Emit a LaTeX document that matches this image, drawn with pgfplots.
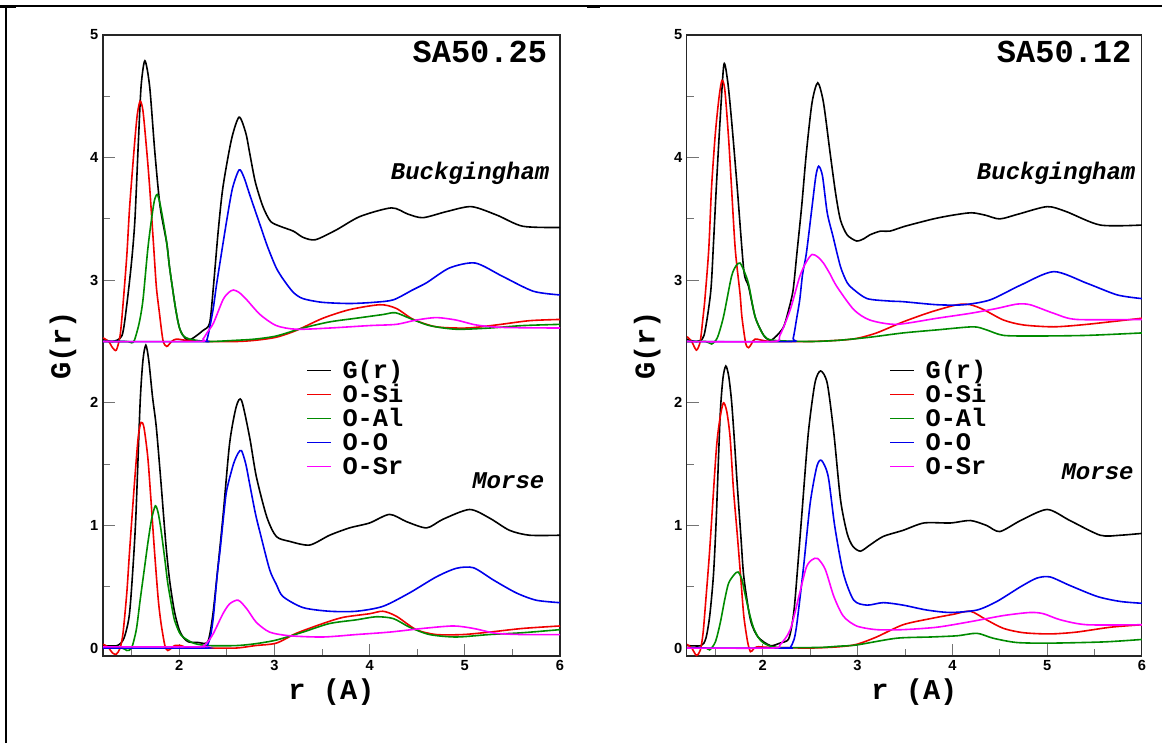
\documentclass[border=0pt]{standalone}
\usepackage{fontspec}
\setmainfont{Liberation Sans}
\newfontfamily\cour{Liberation Mono}
\usepackage{pgfplots}
\pgfplotsset{compat=1.18}
\definecolor{gk}{RGB}{0,0,0}
\definecolor{gr}{RGB}{240,0,0}
\definecolor{gg}{RGB}{0,139,0}
\definecolor{gb}{RGB}{0,0,235}
\definecolor{gm}{RGB}{255,0,255}
\pgfplotsset{rdf/.style={
 scale only axis, height=465.75pt, anchor=south west,
 xmin=1.2, xmax=6, ymin=-0.065, ymax=5,
 xtick={2,3,4,5,6}, ytick={0,1,2,3,4,5},
 minor xtick={1.5,2.5,3.5,4.5,5.5}, minor ytick={0.5,1.5,2.5,3.5,4.5},
 tick align=inside, xtick pos=bottom, ytick pos=left,
 major tick length=9pt, minor tick length=5pt,
 tick style={black!55, line width=0.7pt},
 axis line style={black!85, line width=0.8pt},
 /pgf/number format/assume math mode=true,
 ticklabel style={font=\bfseries\fontsize{11}{13}\selectfont},
 xlabel={r (A)}, ylabel={G(r)},
 label style={font=\cour\bfseries\fontsize{21.5}{24}\selectfont},
 xlabel style={at={(axis description cs:0.5,-0.058)}, anchor=center},
 ylabel style={at={(axis description cs:-0.0875,0.5)}, anchor=center},
 every axis plot/.append style={line width=1.2pt, smooth, tension=0.45, no markers},
 legend cell align=left,
 legend image code/.code={\draw[#1, line width=0.9pt] (0pt,0pt) -- (18pt,0pt);},
 legend style={draw=none, fill=none, inner sep=0pt, anchor=north west,
   font=\cour\bfseries\fontsize{19}{19}\selectfont, row sep=0pt, column sep=6pt,
   cells={anchor=west, text height=12.5pt, text depth=5.5pt}},
}}
\begin{document}
\begin{tikzpicture}
\path[use as bounding box] (0,0) rectangle (871.5pt,557.25pt);
\draw[line width=0.8pt] (4.5pt,0pt) -- (4.5pt,552.75pt) -- (871.5pt,552.75pt);
\draw[line width=2pt] (0pt,552.5pt) -- (12pt,552.5pt);
\draw[line width=2pt] (440pt,552.5pt) -- (450pt,552.5pt);
% ================= LEFT PANEL SA50.25 =================
\begin{axis}[rdf, at={(77.25pt,65.25pt)}, width=342.75pt,
  legend style={at={(rel axis cs:0.445,0.479)}}]
% Morse
\addplot[color=gk] coordinates {(1.2,0.02)(1.35,0.02)(1.42,0.08)(1.475,0.26)(1.51,0.6)(1.545,1.07)(1.59,2.0)(1.62,2.35)(1.65,2.47)(1.68,2.35)(1.72,2.05)(1.76,1.8)(1.81,1.34)(1.86,0.85)(1.9,0.55)(1.95,0.3)(2.0,0.15)(2.05,0.08)(2.1,0.05)(2.2,0.045)(2.3,0.05)(2.35,0.25)(2.39,0.53)(2.46,1.07)(2.53,1.67)(2.6,1.97)(2.655,2.02)(2.74,1.72)(2.81,1.40)(2.92,1.07)(3.02,0.91)(3.16,0.87)(3.37,0.84)(3.58,0.92)(3.79,0.98)(4.0,1.02)(4.21,1.09)(4.39,1.03)(4.6,0.98)(4.77,1.05)(5.05,1.13)(5.26,1.06)(5.47,0.96)(5.68,0.92)(6.0,0.92)};
\addlegendentry{G(r)}
\addplot[color=gr] coordinates {(1.2,0.03)(1.25,0.01)(1.3,-0.04)(1.34,-0.05)(1.38,0.0)(1.41,0.12)(1.45,0.45)(1.48,0.8)(1.53,1.34)(1.57,1.72)(1.6,1.84)(1.63,1.8)(1.67,1.56)(1.7,1.25)(1.74,0.8)(1.78,0.4)(1.81,0.2)(1.85,0.02)(1.88,-0.02)(1.92,0.0)(1.95,0.02)(2.02,0.02)(2.1,0.0)(2.3,0.0)(2.6,0.0)(2.8,0.02)(3.02,0.04)(3.23,0.12)(3.51,0.2)(3.72,0.25)(4.0,0.28)(4.14,0.30)(4.28,0.26)(4.49,0.15)(4.7,0.11)(4.98,0.11)(5.26,0.13)(5.61,0.16)(6.0,0.18)};
\addlegendentry{O-Si}
\addplot[color=gg] coordinates {(1.2,0.0)(1.4,0.0)(1.45,-0.02)(1.5,0.0)(1.55,0.15)(1.59,0.39)(1.63,0.62)(1.67,0.85)(1.71,1.05)(1.75,1.16)(1.78,1.1)(1.81,0.96)(1.85,0.72)(1.88,0.53)(1.92,0.35)(1.95,0.23)(2.0,0.13)(2.04,0.09)(2.15,0.04)(2.3,0.02)(2.6,0.02)(2.8,0.035)(3.02,0.065)(3.3,0.13)(3.58,0.2)(3.86,0.23)(4.07,0.255)(4.25,0.24)(4.42,0.17)(4.63,0.11)(4.91,0.09)(5.26,0.11)(5.61,0.125)(6.0,0.15)};
\addlegendentry{O-Al}
\addplot[color=gb] coordinates {(1.2,0.0)(2.25,0.0)(2.29,0.01)(2.33,0.1)(2.36,0.26)(2.4,0.6)(2.43,0.8)(2.47,1.1)(2.5,1.29)(2.57,1.5)(2.62,1.59)(2.655,1.61)(2.7,1.5)(2.74,1.34)(2.8,1.1)(2.85,0.94)(2.95,0.64)(3.02,0.52)(3.09,0.42)(3.3,0.33)(3.58,0.30)(3.86,0.30)(4.14,0.34)(4.42,0.45)(4.7,0.58)(4.91,0.65)(5.09,0.655)(5.3,0.555)(5.54,0.45)(5.75,0.39)(6.0,0.37)};
\addlegendentry{O-O}
\addplot[color=gm] coordinates {(1.2,0.01)(2.2,0.01)(2.25,0.015)(2.3,0.05)(2.36,0.12)(2.46,0.28)(2.53,0.36)(2.62,0.39)(2.71,0.32)(2.81,0.21)(2.95,0.13)(3.16,0.10)(3.51,0.09)(3.86,0.11)(4.21,0.13)(4.56,0.16)(4.88,0.18)(5.09,0.16)(5.33,0.12)(5.61,0.11)(6.0,0.11)};
\addlegendentry{O-Sr}
% Buckingham
\addplot[color=gk, forget plot] coordinates {(1.2,2.52)(1.3,2.5)(1.4,2.55)(1.45,2.8)(1.5,3.15)(1.535,3.49)(1.57,4.1)(1.6,4.58)(1.64,4.79)(1.69,4.58)(1.745,4.04)(1.8,3.6)(1.87,3.3)(1.9,3.1)(1.96,2.78)(2.0,2.62)(2.04,2.55)(2.09,2.51)(2.15,2.53)(2.25,2.59)(2.32,2.65)(2.36,2.95)(2.41,3.4)(2.46,3.76)(2.55,4.15)(2.63,4.33)(2.7,4.2)(2.74,4.04)(2.8,3.8)(2.88,3.6)(2.96,3.48)(3.06,3.44)(3.2,3.40)(3.3,3.35)(3.43,3.33)(3.65,3.41)(3.9,3.52)(4.23,3.59)(4.4,3.54)(4.56,3.51)(4.81,3.56)(5.07,3.60)(5.34,3.53)(5.61,3.44)(6.0,3.43)};
\addplot[color=gr, forget plot] coordinates {(1.2,2.53)(1.26,2.5)(1.3,2.45)(1.34,2.43)(1.38,2.55)(1.41,2.8)(1.45,3.2)(1.48,3.6)(1.53,4.1)(1.56,4.35)(1.59,4.46)(1.62,4.38)(1.66,4.05)(1.69,3.76)(1.73,3.3)(1.76,2.95)(1.79,2.75)(1.83,2.51)(1.87,2.46)(1.92,2.5)(1.97,2.52)(2.07,2.51)(2.3,2.5)(2.6,2.5)(2.8,2.51)(3.02,2.535)(3.23,2.59)(3.51,2.69)(3.79,2.76)(4.11,2.80)(4.28,2.77)(4.46,2.68)(4.7,2.62)(5.02,2.61)(5.33,2.635)(5.68,2.67)(6.0,2.68)};
\addplot[color=gg, forget plot] coordinates {(1.2,2.5)(1.45,2.5)(1.5,2.49)(1.53,2.51)(1.58,2.65)(1.62,2.84)(1.67,3.25)(1.71,3.5)(1.74,3.65)(1.77,3.70)(1.8,3.62)(1.84,3.45)(1.87,3.3)(1.9,3.1)(1.96,2.78)(2.0,2.62)(2.04,2.55)(2.11,2.52)(2.3,2.5)(2.6,2.51)(2.8,2.52)(3.02,2.545)(3.3,2.61)(3.58,2.66)(3.86,2.69)(4.14,2.72)(4.27,2.735)(4.42,2.69)(4.63,2.63)(4.91,2.60)(5.26,2.61)(5.61,2.63)(6.0,2.64)};
\addplot[color=gb, forget plot] coordinates {(1.2,2.5)(2.25,2.5)(2.29,2.51)(2.33,2.65)(2.36,2.78)(2.39,2.95)(2.43,3.15)(2.5,3.49)(2.56,3.75)(2.63,3.90)(2.68,3.84)(2.74,3.70)(2.85,3.45)(2.93,3.27)(3.02,3.10)(3.1,3.0)(3.2,2.9)(3.3,2.85)(3.5,2.82)(3.79,2.81)(4.05,2.82)(4.25,2.84)(4.45,2.92)(4.6,2.98)(4.84,3.10)(5.11,3.14)(5.4,3.03)(5.72,2.91)(6.0,2.88)};
\addplot[color=gm, forget plot] coordinates {(1.2,2.5)(2.2,2.5)(2.25,2.52)(2.3,2.58)(2.36,2.65)(2.46,2.84)(2.52,2.9)(2.57,2.92)(2.63,2.90)(2.71,2.84)(2.85,2.72)(3.02,2.63)(3.23,2.60)(3.58,2.61)(4.0,2.63)(4.28,2.64)(4.49,2.675)(4.7,2.695)(4.91,2.675)(5.12,2.635)(5.4,2.615)(6.0,2.61)};
\node[anchor=east, font=\cour\bfseries\fontsize{24}{28}\selectfont] at (rel axis cs:0.982,0.9726) {SA50.25};
\node[anchor=east, font=\cour\bfseries\itshape\fontsize{18}{20}\selectfont] at (rel axis cs:0.987,0.778) {Buckgingham};
\node[anchor=east, font=\cour\bfseries\itshape\fontsize{18}{20}\selectfont] at (rel axis cs:0.976,0.283) {Morse};
\end{axis}
% ================= RIGHT PANEL SA50.12 =================
\begin{axis}[rdf, at={(515.2pt,65.25pt)}, width=341.25pt,
  legend style={at={(rel axis cs:0.445,0.479)}}]
\addplot[color=gk] coordinates {(1.2,0.02)(1.35,0.02)(1.4,0.08)(1.44,0.26)(1.48,0.6)(1.51,1.07)(1.55,1.89)(1.58,2.2)(1.61,2.30)(1.64,2.22)(1.67,2.02)(1.7,1.7)(1.73,1.34)(1.77,0.9)(1.8,0.58)(1.87,0.23)(1.95,0.09)(2.08,0.02)(2.18,0.04)(2.27,0.07)(2.31,0.2)(2.34,0.39)(2.41,1.07)(2.48,1.75)(2.55,2.16)(2.61,2.26)(2.68,2.16)(2.75,1.75)(2.82,1.21)(2.89,0.935)(2.95,0.83)(3.03,0.79)(3.13,0.84)(3.27,0.91)(3.48,0.96)(3.7,1.02)(3.98,1.02)(4.19,1.04)(4.36,1.00)(4.5,0.95)(4.72,1.04)(5.0,1.13)(5.24,1.04)(5.56,0.92)(5.77,0.92)(6.0,0.935)};
\addlegendentry{G(r)}
\addplot[color=gr] coordinates {(1.2,0.03)(1.25,0.0)(1.3,-0.06)(1.34,-0.02)(1.37,0.12)(1.4,0.4)(1.44,0.8)(1.51,1.62)(1.55,1.88)(1.585,2.00)(1.62,1.93)(1.655,1.72)(1.69,1.3)(1.73,0.935)(1.77,0.55)(1.8,0.26)(1.84,0.05)(1.87,-0.03)(1.9,-0.01)(1.94,0.01)(2.08,0.005)(2.5,0.0)(2.8,0.01)(2.99,0.03)(3.2,0.09)(3.48,0.19)(3.77,0.24)(4.01,0.275)(4.19,0.30)(4.36,0.23)(4.54,0.16)(4.75,0.125)(5.03,0.115)(5.31,0.13)(5.67,0.17)(6.0,0.19)};
\addlegendentry{O-Si}
\addplot[color=gg] coordinates {(1.2,0.0)(1.4,0.0)(1.44,-0.015)(1.5,0.05)(1.55,0.2)(1.6,0.4)(1.64,0.53)(1.7,0.6)(1.74,0.62)(1.78,0.56)(1.81,0.45)(1.86,0.28)(1.9,0.17)(1.95,0.09)(2.01,0.04)(2.15,0.005)(2.6,0.005)(2.8,0.015)(2.99,0.025)(3.41,0.08)(3.77,0.09)(4.05,0.10)(4.26,0.12)(4.43,0.08)(4.68,0.045)(5.03,0.04)(5.6,0.05)(6.0,0.07)};
\addlegendentry{O-Al}
\addplot[color=gb] coordinates {(1.2,0.0)(2.25,0.0)(2.29,0.005)(2.33,0.07)(2.36,0.2)(2.43,0.66)(2.5,1.18)(2.57,1.48)(2.62,1.53)(2.69,1.40)(2.76,0.99)(2.85,0.61)(2.96,0.39)(3.10,0.35)(3.27,0.37)(3.48,0.35)(3.73,0.31)(3.98,0.29)(4.26,0.31)(4.47,0.38)(4.72,0.50)(4.89,0.57)(5.03,0.58)(5.24,0.51)(5.53,0.42)(5.77,0.38)(6.0,0.365)};
\addlegendentry{O-O}
\addplot[color=gm] coordinates {(1.2,0.0)(2.1,0.0)(2.18,0.025)(2.29,0.15)(2.39,0.45)(2.46,0.66)(2.52,0.72)(2.58,0.73)(2.66,0.64)(2.75,0.42)(2.85,0.26)(2.99,0.18)(3.2,0.15)(3.48,0.15)(3.84,0.17)(4.19,0.215)(4.54,0.265)(4.82,0.29)(4.96,0.28)(5.14,0.23)(5.42,0.19)(6.0,0.19)};
\addlegendentry{O-Sr}
\addplot[color=gk, forget plot] coordinates {(1.2,2.52)(1.3,2.5)(1.38,2.55)(1.45,2.9)(1.48,3.3)(1.51,3.76)(1.55,4.31)(1.59,4.76)(1.63,4.62)(1.67,4.31)(1.73,3.76)(1.8,3.08)(1.85,2.95)(1.92,2.70)(2.01,2.55)(2.08,2.51)(2.15,2.55)(2.22,2.62)(2.27,2.75)(2.32,2.92)(2.36,3.22)(2.41,3.6)(2.46,4.04)(2.52,4.45)(2.58,4.61)(2.64,4.45)(2.71,4.04)(2.77,3.7)(2.82,3.49)(2.89,3.37)(2.99,3.32)(3.07,3.34)(3.13,3.37)(3.24,3.40)(3.34,3.40)(3.5,3.44)(3.8,3.50)(4.0,3.53)(4.2,3.55)(4.35,3.53)(4.5,3.50)(4.7,3.54)(5.0,3.60)(5.2,3.56)(5.56,3.45)(6.0,3.45)};
\addplot[color=gr, forget plot] coordinates {(1.2,2.54)(1.25,2.5)(1.3,2.43)(1.34,2.5)(1.37,2.70)(1.39,2.85)(1.43,3.25)(1.46,3.76)(1.5,4.2)(1.54,4.5)(1.57,4.63)(1.6,4.55)(1.64,4.15)(1.67,3.76)(1.71,3.25)(1.76,2.89)(1.78,2.70)(1.82,2.485)(1.85,2.45)(1.88,2.48)(1.92,2.52)(2.08,2.50)(2.5,2.5)(2.8,2.51)(2.99,2.525)(3.2,2.57)(3.48,2.66)(3.77,2.74)(4.05,2.80)(4.19,2.80)(4.33,2.76)(4.54,2.675)(4.75,2.635)(5.07,2.62)(5.42,2.64)(6.0,2.69)};
\addplot[color=gg, forget plot] coordinates {(1.2,2.5)(1.4,2.5)(1.46,2.48)(1.52,2.53)(1.585,2.70)(1.67,3.03)(1.72,3.12)(1.76,3.14)(1.8,3.08)(1.85,2.97)(1.92,2.70)(2.01,2.55)(2.11,2.51)(2.5,2.5)(2.8,2.51)(3.13,2.535)(3.48,2.57)(3.84,2.595)(4.22,2.62)(4.36,2.595)(4.54,2.55)(4.89,2.545)(5.42,2.55)(6.0,2.57)};
\addplot[color=gb, forget plot] coordinates {(1.2,2.5)(2.28,2.5)(2.32,2.525)(2.36,2.7)(2.39,2.84)(2.42,3.05)(2.46,3.22)(2.52,3.6)(2.56,3.85)(2.59,3.93)(2.63,3.85)(2.68,3.55)(2.74,3.36)(2.82,3.11)(2.89,2.98)(2.95,2.93)(3.10,2.85)(3.34,2.83)(3.48,2.825)(3.84,2.80)(4.12,2.80)(4.40,2.84)(4.72,2.96)(5.07,3.07)(5.42,2.975)(5.74,2.88)(6.0,2.85)};
\addplot[color=gm, forget plot] coordinates {(1.2,2.5)(2.1,2.5)(2.18,2.55)(2.29,2.76)(2.39,3.03)(2.46,3.15)(2.52,3.21)(2.58,3.19)(2.64,3.14)(2.71,3.05)(2.78,2.95)(2.96,2.76)(3.13,2.675)(3.41,2.64)(3.84,2.69)(4.19,2.73)(4.47,2.77)(4.68,2.805)(4.82,2.80)(5.07,2.73)(5.31,2.68)(6.0,2.68)};
\node[anchor=east, font=\cour\bfseries\fontsize{24}{28}\selectfont] at (rel axis cs:0.987,0.9726) {SA50.12};
\node[anchor=east, font=\cour\bfseries\itshape\fontsize{18}{20}\selectfont] at (rel axis cs:0.996,0.778) {Buckgingham};
\node[anchor=east, font=\cour\bfseries\itshape\fontsize{18}{20}\selectfont] at (rel axis cs:0.992,0.296) {Morse};
\end{axis}
\end{tikzpicture}
\end{document}
